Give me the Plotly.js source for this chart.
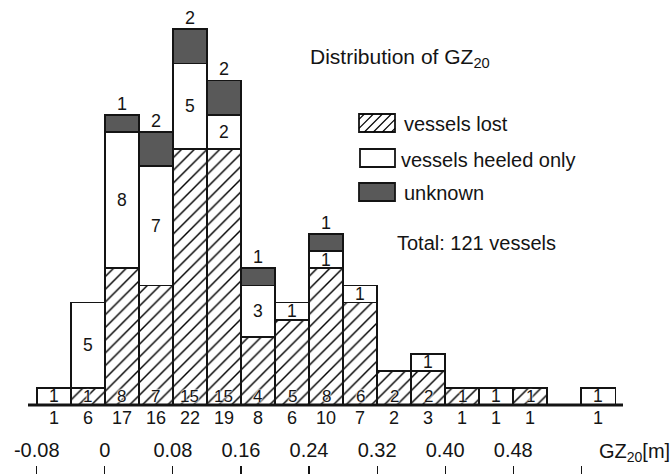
<!DOCTYPE html>
<html>
<head>
<meta charset="utf-8">
<script src="https://cdn.plot.ly/plotly-3.0.1.min.js"></script>
<style>html,body{margin:0;padding:0;background:#fff;}#chart{width:671px;height:474px;}</style>
</head>
<body>
<div id="chart"></div>
<script>
// ---- data ----
const binStart = [-0.08,-0.04,0,0.04,0.08,0.12,0.16,0.20,0.24,0.28,0.32,0.36,0.40,0.44,0.48,0.52,0.56];
const binWidth = 0.04;
const lost     = [0,1,8,7,15,15,4,5,8,6,2,2,1,0,1,0,0];
const heeled   = [1,5,8,7,5,2,3,1,1,1,0,1,0,1,0,0,1];
const unknown  = [0,0,1,2,2,2,1,0,1,0,0,0,0,0,0,0,0];
const tickVals = [-0.08,0,0.08,0.16,0.24,0.32,0.40,0.48,0.56];
const tickText = ['-0.08','0','0.08','0.16','0.24','0.32','0.40','0.48',' '];
const seriesNames = ['vessels lost','vessels heeled only','unknown'];

// ---- style ----
const W = 671, H = 474;
const FONT = 'Liberation Sans, Arial, sans-serif';
const INK = '#141414';
const GREY = '#595959';
const X0PX = 104.8, XSCALE = 851;      // px of x=0, px per unit
const Y0PX = 405, YSCALE = 17.08;       // px of y=0, px per count
const xRange = [-X0PX / XSCALE, (W - X0PX) / XSCALE];
const yRange = [-(H - Y0PX) / YSCALE, Y0PX / YSCALE];
const pxX = p => p / W;
const pxY = p => 1 - p / H;

const totals = binStart.map((_, i) => lost[i] + heeled[i] + unknown[i]);
const grand = totals.reduce((a, b) => a + b, 0);

const lineStyle = {color: INK, width: 1.8};
const traces = [
  {type:'bar', name:seriesNames[0], x:binStart, y:lost, width:binWidth, offset:0,
   marker:{color:'white', line:lineStyle, pattern:{shape:'/', fgcolor:'#000', bgcolor:'white', size:9, solidity:0.16}}},
  {type:'bar', name:seriesNames[1], x:binStart, y:heeled, width:binWidth, offset:0,
   marker:{color:'white', line:lineStyle}},
  {type:'bar', name:seriesNames[2], x:binStart, y:unknown, width:binWidth, offset:0,
   marker:{color:GREY, line:lineStyle}}
];

const ann = [];
const cnt = {font:{family:FONT, size:18, color:INK}, showarrow:false, xref:'x', yref:'y'};
binStart.forEach((x, i) => {
  const xc = x + binWidth / 2;
  if (lost[i] > 0) ann.push(Object.assign({}, cnt, {x:xc, y:0.5, yanchor:'middle', text:String(lost[i]),
    font:{family:FONT, size:17, color:INK, shadow:'0 0 2px #fff, 0 0 2px #fff, 0 0 2px #fff'}}));
  if (heeled[i] > 0) ann.push(Object.assign({}, cnt, {x:xc, y:lost[i] + heeled[i] / 2, yanchor:'middle', text:String(heeled[i]),
    font:{family:FONT, size:17.5, color:INK}}));
  if (unknown[i] > 0) ann.push(Object.assign({}, cnt, {x:xc, y:totals[i], yanchor:'bottom', yshift:-1, text:String(unknown[i])}));
  if (totals[i] > 0) ann.push(Object.assign({}, cnt, {x:xc, y:0, yanchor:'top', yshift:-1, text:String(totals[i])}));
});

const txt = (text, x, y, size, anchor) => ({text, x:pxX(x), y:pxY(y), xref:'paper', yref:'paper',
  xanchor:anchor || 'left', yanchor:'middle', showarrow:false, font:{family:FONT, size, color:INK}});
ann.push(txt('Distribution of GZ<sub>20</sub>', 308, 58, 21));
ann.push(txt(seriesNames[0], 402, 124, 20));
ann.push(txt(seriesNames[1], 399, 160, 20));
ann.push(txt(seriesNames[2], 402, 193, 20));
ann.push(txt('Total: ' + grand + ' vessels', 395, 243, 20));
ann.push(txt('GZ<sub>20</sub>[m]', 597, 452, 20));

// legend swatches
function hatch(x0, y0, x1, y1, step) {
  let d = '';
  for (let c = x0 + y0 + step * 0.6; c < x1 + y1; c += step) {
    const xa = Math.max(x0, c - y1), xb = Math.min(x1, c - y0);
    if (xb > xa) d += `M${pxX(xa)},${pxY(c - xa)}L${pxX(xb)},${pxY(c - xb)}`;
  }
  return d;
}
const sw = [[359,114,395,132,'white'],[360,149,395,167,'white'],[359,183,395,201,GREY]];
const shapes = [];
sw.forEach((s, k) => {
  shapes.push({type:'rect', xref:'paper', yref:'paper', x0:pxX(s[0]), x1:pxX(s[2]), y0:pxY(s[1]), y1:pxY(s[3]),
    fillcolor:s[4], line:{color:INK, width:1.8}});
  if (k === 0) shapes.push({type:'path', xref:'paper', yref:'paper', path:hatch(s[0], s[1], s[2], s[3], 9),
    line:{color:'#000', width:1.1}});
});
// baseline
shapes.push({type:'line', xref:'x', yref:'y', x0:(28 - X0PX) / XSCALE, x1:(623 - X0PX) / XSCALE, y0:0, y1:0,
  line:{color:INK, width:3.2}, layer:'above'});

const layout = {
  width:W, height:H, margin:{l:0, r:0, t:0, b:0},
  paper_bgcolor:'white', plot_bgcolor:'white', barmode:'stack', showlegend:false,
  xaxis:{range:xRange, showgrid:false, zeroline:false, showline:false, tickmode:'array',
    tickvals:tickVals, ticktext:tickText, ticks:'inside', ticklen:8, tickwidth:1.2, tickcolor:INK,
    ticklabelposition:'inside', ticklabelstandoff:6, tickfont:{family:FONT, size:20, color:INK}, fixedrange:true},
  yaxis:{range:yRange, visible:false, showgrid:false, zeroline:false, fixedrange:true},
  annotations:ann, shapes:shapes
};
Plotly.newPlot('chart', traces, layout, {staticPlot:true, displayModeBar:false});
</script>
</body>
</html>
